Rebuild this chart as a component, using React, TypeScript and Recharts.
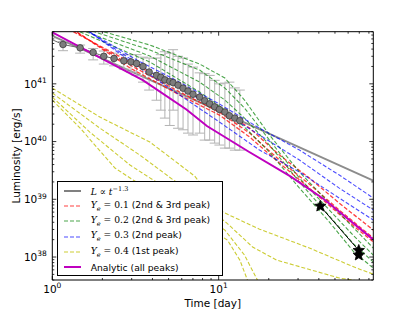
import React from 'react';
import { ComposedChart, Line, Scatter, XAxis, YAxis, ErrorBar, Legend } from 'recharts';

const FONT = '"DejaVu Sans", sans-serif';
const MATH = '"DejaVu Serif", "Liberation Serif", serif';

// observed light curve (days, erg/s) with error bounds
const obsT = [1.16, 1.47, 1.76, 2.04, 2.35, 2.69, 2.97, 3.21, 3.51, 3.82, 4.23, 4.49, 4.75, 5.08, 5.32, 5.7, 6.11, 6.54, 7.01, 7.69, 8.24, 8.83, 9.46, 10.1, 10.9, 11.6, 12.5, 13.4];
const obsL = [4.8e41, 4.2e41, 3.5e41, 3.0e41, 2.75e41, 2.5e41, 2.4e41, 2.25e41, 2.0e41, 1.6e41, 1.4e41, 1.3e41, 1.17e41, 1.1e41, 1.05e41, 9.5e40, 8.4e40, 7.5e40, 6.6e40, 5.9e40, 5.1e40, 4.5e40, 4.0e40, 3.6e40, 3.25e40, 2.8e40, 2.55e40, 2.3e40];
const obsHi = [5.4e41, 4.7e41, 4.1e41, 3.7e41, 3.4e41, 3.2e41, 3.2e41, 3.2e41, 2.9e41, 2.8e41, 2.8e41, 3.2e41, 3.6e41, 3.4e41, 3.9e41, 3.0e41, 2.8e41, 2.2e41, 1.95e41, 1.55e41, 1.5e41, 1.4e41, 1.15e41, 1.0e41, 1.03e41, 1.07e41, 8.5e40, 7.8e40];
const obsLo = [3.75e41, 3.4e41, 2.6e41, 2.2e41, 2.05e41, 1.8e41, 1.6e41, 1.4e41, 1.07e41, 7.8e40, 5.2e40, 3.5e40, 2.55e40, 1.9e40, 3.5e40, 1.7e40, 1.6e40, 1.4e40, 1.3e40, 1.4e40, 1.06e40, 1.06e40, 9.4e39, 8.7e39, 7.7e39, 7.7e39, 7.1e39, 7.1e39];
const obsLineT = [1, ...obsT];
const obsLineL = [5.8e41, ...obsL];

// late-time points
const lateT = [40.8, 69.5, 69.5];
const lateL = [7.6e38, 1.3e38, 1.08e38];

// L ∝ t^-1.3
const powT = [1, 85];
const powL = [6.8e41, 2.1e39];

// Ye = 0.1
const redT = [1, 2.93, 5.83, 10.1, 15.35, 23.2, 35.1, 53.1, 85];
const redL = [
  [1.25e42, 2.39e41, 8.45e40, 3.81e40, 1.71e40, 5.83e39, 2.33e39, 8.59e38, 2.92e38],
  [1.4e42, 2.12e41, 7.21e40, 3.24e40, 1.4e40, 4.78e39, 1.83e39, 6.5e38, 2.13e38],
  [1.55e42, 1.88e41, 6.4e40, 2.88e40, 1.2e40, 4.24e39, 1.56e39, 5.53e38, 1.82e38],
];

// Ye = 0.2
const greenT = [1, 3.86, 7.69, 10.9, 14.3, 20.2, 30.6, 46.3, 65, 85];
const greenL = [
  [1.44e42, 4.7e41, 2.2e41, 1.26e41, 5.24e40, 1.3e40, 2.96e39, 8.59e38, 3.17e38, 1.43e38],
  [1.38e42, 3.86e41, 1.73e41, 8.45e40, 3.81e40, 1.06e40, 2.33e39, 6.5e38, 2.31e38, 1.08e38],
  [1.33e42, 3.03e41, 1.07e41, 5.24e40, 2.55e40, 8.7e39, 1.99e39, 5.12e38, 1.67e38, 8.17e37],
  [1.28e42, 2.39e41, 7.21e40, 3.52e40, 1.78e40, 6.58e39, 1.56e39, 4.03e38, 1.22e38, 6.43e37],
];

// Ye = 0.3
const blueT = [1, 3.22, 5.83, 10.1, 17.6, 30.6, 53.1, 85];
const blueL = [
  [1.92e42, 2.59e41, 1.07e41, 4.47e40, 1.71e40, 7.12e39, 2.63e39, 1.05e39],
  [2.07e42, 2.29e41, 8.45e40, 3.52e40, 1.3e40, 4.78e39, 1.56e39, 6.5e38],
  [2.34e42, 2.04e41, 6.4e40, 2.18e40, 7.12e39, 2.96e39, 1.05e39, 4.37e38],
];

// Ye = 0.4
const yellowT = [
  [1, 1.93, 3.86, 7.18, 10.6, 17.6, 35.1, 67.5, 85],
  [1, 1.93, 3.36, 5.45, 11.2, 16.0, 22.3, 53.1, 85],
  [1, 1.68, 2.93, 4.13, 10.9, 14.3, 17.1],
  [1, 1.47, 2.38, 3.13, 11.3, 13.4, 14.9],
];
const yellowL = [
  [8.45e40, 2.66e40, 9.8e39, 2.52e39, 6.0e38, 3.04e38, 1.43e38, 6.43e37, 5.06e37],
  [6.93e40, 1.71e40, 5.83e39, 2.07e39, 3.87e38, 1.49e38, 8.85e37, 4.32e37, 3.5e37],
  [5.9e40, 1.46e40, 3.92e39, 2.07e39, 2.92e38, 1.08e38, 3.98e37],
  [5.24e40, 1.71e40, 3.48e39, 2.07e39, 1.96e38, 8.85e37, 3.98e37],
];

// analytic model
const anaT = [1, 2, 3.5, 6.4, 8.5, 15, 27, 43, 85];
const anaL = [7.8e41, 2.7e41, 1.16e41, 3.6e40, 1.86e40, 6.8e39, 2.5e39, 1.0e39, 2.0e38];

const xTicks = [1, 2, 3, 4, 5, 6, 7, 8, 9, 10, 20, 30, 40, 50, 60, 70, 80];
const yTicks: number[] = [];
for (let e = 37; e <= 41; e++) for (let m = 1; m <= 9; m++) {
  const v = m * Math.pow(10, e);
  if (v >= 4e37 && v <= 8e41) yTicks.push(v);
}

const pts = (ts: number[], ls: number[]) => ts.map((t, i) => ({ t, L: ls[i] }));
const obsData = obsT.map((t, i) => ({ t, L: obsL[i], err: [obsL[i] - obsLo[i], obsHi[i] - obsL[i]] }));

const isMajor = (v: number) => Math.abs(Math.log10(v) - Math.round(Math.log10(v))) < 1e-6;
const expOf = (v: number) => Math.round(Math.log10(v));

const BottomTick = ({ x, y, payload }: any) => {
  const major = isMajor(payload.value);
  return (
    <g>
      <line x1={x} x2={x} y1={y} y2={y - (major ? 4 : 2)} stroke="#000" strokeWidth={0.8} />
      {major && (
        <text x={x} y={y + 12.5} textAnchor="middle" fontSize={10.5} fontFamily={FONT} fill="#000">
          10<tspan dy={-4.5} fontSize={7.5}>{expOf(payload.value)}</tspan>
        </text>
      )}
    </g>
  );
};
const TopTick = ({ x, y, payload }: any) => (
  <line x1={x} x2={x} y1={y} y2={y + (isMajor(payload.value) ? 4 : 2)} stroke="#000" strokeWidth={0.8} />
);
const LeftTick = ({ x, y, payload }: any) => {
  const major = isMajor(payload.value);
  return (
    <g>
      <line x1={x} x2={x + (major ? 4 : 2)} y1={y} y2={y} stroke="#000" strokeWidth={0.8} />
      {major && (
        <text x={x - 5.5} y={y + 3.8} textAnchor="end" fontSize={10.5} fontFamily={FONT} fill="#000">
          10<tspan dy={-4.5} fontSize={7.5}>{expOf(payload.value)}</tspan>
        </text>
      )}
    </g>
  );
};
const RightTick = ({ x, y, payload }: any) => (
  <line x1={x} x2={x - (isMajor(payload.value) ? 4 : 2)} y1={y} y2={y} stroke="#000" strokeWidth={0.8} />
);

const Dot = (p: any) => <circle cx={p.cx} cy={p.cy} r={3.3} fill="#7c7c7c" stroke="#3c3c3c" strokeWidth={0.8} />;
const Star = (p: any) => {
  const pts: string[] = [];
  for (let i = 0; i < 10; i++) {
    const r = i % 2 === 0 ? 6 : 2.7;
    const a = -Math.PI / 2 + (i * Math.PI) / 5;
    pts.push(`${p.cx + r * Math.cos(a)},${p.cy + r * Math.sin(a)}`);
  }
  return <polygon points={pts.join(' ')} fill="#000" stroke="#000" strokeWidth={0.8} />;
};

const RED = 'rgba(255,0,0,0.75)';
const GREEN = 'rgba(0,128,0,0.7)';
const BLUE = 'rgba(0,0,255,0.7)';
const YELLOW = 'rgba(191,191,0,0.8)';
const MAGENTA = '#bf00bf';
const DASH = '4 2';

const m = (s: string) => <span style={{ fontFamily: MATH, fontStyle: 'italic' }}>{s}</span>;
const ye = (v: string, rest: string) => (
  <>
    {m('Y')}<sub style={{ fontFamily: MATH, fontStyle: 'italic', fontSize: 6.5 }}>e</sub>
    <span style={{ fontFamily: MATH }}> = {v}</span> {rest}
  </>
);
const legendRows = [
  { color: '#808080', dash: undefined, w: 2, label: <>{m('L')}<span style={{ fontFamily: MATH }}> ∝ </span>{m('t')}<sup style={{ fontFamily: MATH, fontSize: 6.5 }}>−1.3</sup></> },
  { color: RED, dash: DASH, w: 1.2, label: ye('0.1', '(2nd & 3rd peak)') },
  { color: GREEN, dash: DASH, w: 1.2, label: ye('0.2', '(2nd & 3rd peak)') },
  { color: BLUE, dash: DASH, w: 1.2, label: ye('0.3', '(2nd peak)') },
  { color: YELLOW, dash: DASH, w: 1.2, label: ye('0.4', '(1st peak)') },
  { color: MAGENTA, dash: undefined, w: 2, label: <>Analytic (all peaks)</> },
];

const LegendBox = () => (
  <div style={{ background: '#fff', border: '1px solid #000', boxSizing: 'border-box', width: '100%', height: '100%', padding: '1px 0', fontFamily: FONT, fontSize: 9.2, color: '#000', lineHeight: 1 }}>
    {legendRows.map((r, i) => (
      <div key={i} style={{ display: 'flex', alignItems: 'center', height: 15.3 }}>
        <svg width={33} height={10} style={{ flex: 'none' }}>
          <line x1={6} x2={23} y1={5} y2={5} stroke={r.color} strokeWidth={r.w} strokeDasharray={r.dash} />
        </svg>
        <span style={{ whiteSpace: 'nowrap' }}>{r.label}</span>
      </div>
    ))}
  </div>
);

export default function App() {
  return (
    <div style={{ position: 'fixed', left: 0, top: 0, width: 415, height: 312, background: '#fff' }}>
      <ComposedChart width={415} height={312} margin={{ top: 30.7, right: 40.7, bottom: 31, left: 51.3 }}>
        <XAxis dataKey="t" type="number" scale="log" domain={[1, 85]} allowDataOverflow ticks={xTicks} interval={0}
          height={1} tickSize={0} tickMargin={0} tickLine={false} axisLine={{ stroke: '#000' }} tick={BottomTick} />
        <XAxis xAxisId="top" orientation="top" dataKey="t" type="number" scale="log" domain={[1, 85]} allowDataOverflow ticks={xTicks} interval={0}
          height={1} tickSize={0} tickMargin={0} tickLine={false} axisLine={{ stroke: '#000' }} tick={TopTick} />
        <YAxis dataKey="L" type="number" scale="log" domain={[4e37, 8e41]} allowDataOverflow ticks={yTicks} interval={0}
          width={1} tickSize={0} tickMargin={0} tickLine={false} axisLine={{ stroke: '#000' }} tick={LeftTick} />
        <YAxis yAxisId="right" orientation="right" dataKey="L" type="number" scale="log" domain={[4e37, 8e41]} allowDataOverflow ticks={yTicks} interval={0}
          width={1} tickSize={0} tickMargin={0} tickLine={false} axisLine={{ stroke: '#000' }} tick={RightTick} />

        {yellowT.map((ts, i) => (
          <Line key={`y${i}`} data={pts(ts, yellowL[i])} dataKey="L" stroke={YELLOW} strokeWidth={1.1} strokeDasharray={DASH} dot={false} activeDot={false} isAnimationActive={false} />
        ))}
        <Line data={pts(powT, powL)} dataKey="L" stroke="#8c8c8c" strokeWidth={1.8} dot={false} activeDot={false} isAnimationActive={false} />
        <Line data={pts(obsLineT, obsLineL)} dataKey="L" stroke="#6a6a6a" strokeWidth={1} dot={false} activeDot={false} isAnimationActive={false} />
        <Scatter data={obsData} dataKey="L" shape={Dot} isAnimationActive={false}>
          <ErrorBar dataKey="err" direction="y" width={5} stroke="#b3b3b3" strokeWidth={1} />
        </Scatter>
        {redL.map((ls, i) => (
          <Line key={`r${i}`} data={pts(redT, ls)} dataKey="L" stroke={RED} strokeWidth={1.3} strokeDasharray={DASH} dot={false} activeDot={false} isAnimationActive={false} />
        ))}
        {greenL.map((ls, i) => (
          <Line key={`g${i}`} data={pts(greenT, ls)} dataKey="L" stroke={GREEN} strokeWidth={1.1} strokeDasharray={DASH} dot={false} activeDot={false} isAnimationActive={false} />
        ))}
        {blueL.map((ls, i) => (
          <Line key={`b${i}`} data={pts(blueT, ls)} dataKey="L" stroke={BLUE} strokeWidth={1.1} strokeDasharray={DASH} dot={false} activeDot={false} isAnimationActive={false} />
        ))}
        <Line data={pts(anaT, anaL)} dataKey="L" stroke={MAGENTA} strokeWidth={2} dot={false} activeDot={false} isAnimationActive={false} />
        <Line data={pts(lateT, lateL)} dataKey="L" stroke="#000" strokeWidth={1} dot={false} activeDot={false} isAnimationActive={false} />
        <Scatter data={pts(lateT, lateL)} dataKey="L" shape={Star} isAnimationActive={false} />

        <Legend content={LegendBox} layout="vertical" align="center" verticalAlign="middle"
          wrapperStyle={{ left: 56.7, top: 181, width: 166.6, height: 94.7 }} />
      </ComposedChart>
      <div style={{ position: 'absolute', left: 212.8, top: 303, transform: 'translate(-50%, -50%)', fontFamily: FONT, fontSize: 10.5, whiteSpace: 'nowrap' }}>
        Time [day]
      </div>
      <div style={{ position: 'absolute', left: 15.5, top: 156, transform: 'translate(-50%, -50%) rotate(-90deg)', fontFamily: FONT, fontSize: 10.5, whiteSpace: 'nowrap' }}>
        Luminosity [erg/s]
      </div>
    </div>
  );
}
